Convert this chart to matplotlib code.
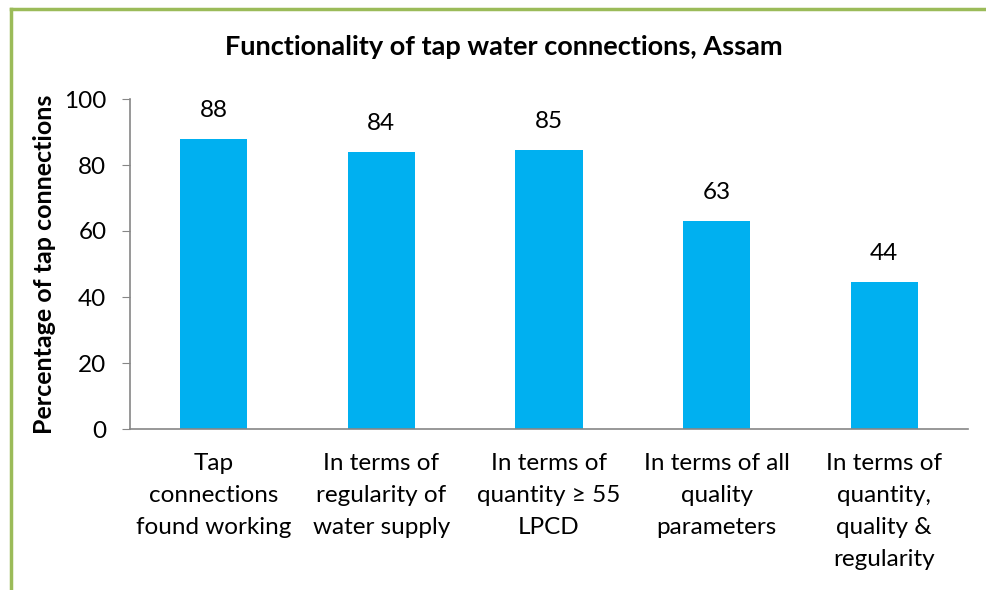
import matplotlib.pyplot as plt
from matplotlib.lines import Line2D

categories = ['Tap\nconnections\nfound working',
              'In terms of\nregularity of\nwater supply',
              'In terms of\nquantity \u2265 55\nLPCD',
              'In terms of all\nquality\nparameters',
              'In terms of\nquantity,\nquality &\nregularity']
values = [87.9, 83.9, 84.6, 63.0, 44.4]
yticks = [0, 20, 40, 60, 80, 100]

plt.rcParams['font.family'] = ['Lato', 'DejaVu Sans']

fig = plt.figure(figsize=(9.87, 5.9), dpi=100)
ax = fig.add_axes([130 / 987, 1 - 429 / 590, 838 / 987, 330 / 590])

x = range(len(values))
bars = ax.bar(x, values, width=0.4, color='#00B0F0')
for b, v in zip(bars, values):
    ax.text(b.get_x() + b.get_width() / 2, v + 5.5, '{:.0f}'.format(v),
            ha='center', va='bottom', fontsize=17.5)

ax.set_xlim(-0.5, len(values) - 0.5)
ax.set_ylim(0, 100)
ax.set_yticks(yticks)
ax.set_xticks(list(x))
ax.set_xticklabels(categories, fontsize=17.5, va='top', linespacing=1.66)
ax.tick_params(axis='x', length=0, pad=17)
ax.tick_params(axis='y', labelsize=17.5, length=6, color='#868686', pad=11)
for s in ['top', 'right']:
    ax.spines[s].set_visible(False)
for s in ['left', 'bottom']:
    ax.spines[s].set_color('#868686')
    ax.spines[s].set_linewidth(1.2)

ax.set_ylabel('Percentage of tap connections', fontsize=18,
              fontweight='bold', labelpad=6)
fig.text(504 / 987, 1 - 47 / 590, 'Functionality of tap water connections, Assam',
         ha='center', va='center', fontsize=19.5, fontweight='bold')

# green frame on left and top
fig.add_artist(Line2D([11 / 987, 11 / 987], [0, 1 - 9 / 590],
                      color='#9BBB59', linewidth=2.5, transform=fig.transFigure))
fig.add_artist(Line2D([11 / 987, 1], [1 - 9 / 590, 1 - 9 / 590],
                      color='#9BBB59', linewidth=2.5, transform=fig.transFigure))

fig.savefig('out.png', dpi=100)
